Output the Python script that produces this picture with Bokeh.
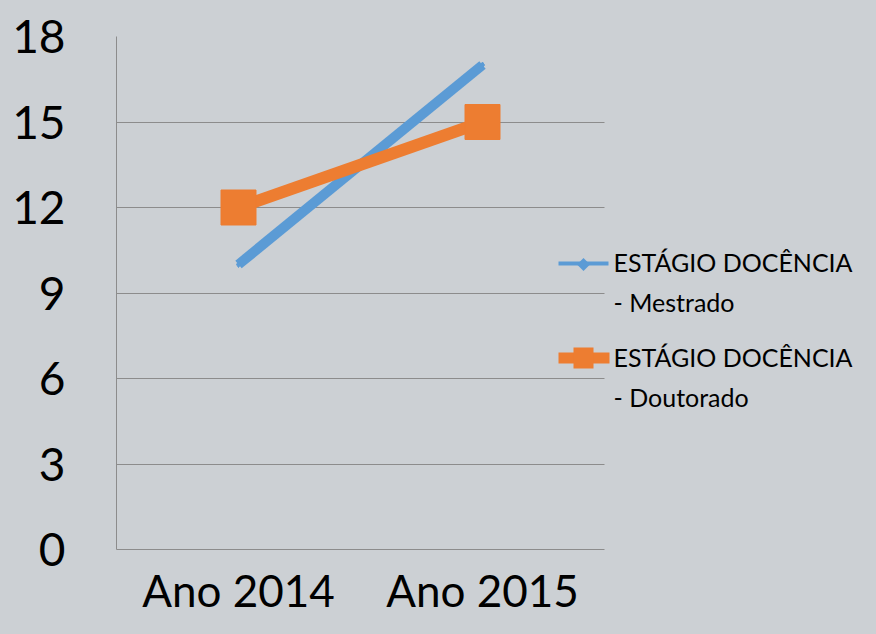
from bokeh.plotting import figure
from bokeh.models import Range1d, FixedTicker, Label, BoxAnnotation, PolyAnnotation
from bokeh.embed import file_html
from bokeh.resources import INLINE

# ---- data ----
years = ["Ano 2014", "Ano 2015"]
mestrado = [10, 17]
doutorado = [12, 15]
y_ticks = [0, 3, 6, 9, 12, 15, 18]
legend_mestrado = ["ESTÁGIO DOCÊNCIA", "- Mestrado"]
legend_doutorado = ["ESTÁGIO DOCÊNCIA", "- Doutorado"]

# category positions on the x scale (one unit per category, centred)
x_pos = [i + 0.5 for i in range(len(years))]
n_cat = len(years)

# ---- style ----
BG = "#ccd0d4"
GRID = "#8c8c8c"
BLUE = "#5b9bd5"
ORANGE = "#ed7d31"
FONT = "Lato"

W, H = 860, 618
LEFT, TOP, BOTTOM = 116, 36, 69
UNIT = 244  # px per category
x_end = (W - LEFT) / UNIT

p = figure(
    x_range=Range1d(0, x_end),
    y_range=Range1d(0, 18),
    width=W, height=H,
    min_border_left=LEFT, min_border_right=0,
    min_border_top=TOP, min_border_bottom=BOTTOM,
    output_backend="svg", toolbar_location=None,
    background_fill_color=BG, border_fill_color=BG,
)
p.outline_line_color = None

# horizontal gridlines limited to the category area
grid = p.ygrid[0]
if "cross_bounds" in grid.properties():
    grid.ticker = FixedTicker(ticks=y_ticks)
    grid.grid_line_color = GRID
    grid.grid_line_width = 1
    grid.cross_bounds = (0, n_cat)
else:
    grid.grid_line_color = None
    p.segment(x0=[0] * len(y_ticks), x1=[n_cat] * len(y_ticks), y0=y_ticks, y1=y_ticks,
              line_color=GRID, line_width=1)
p.xgrid.grid_line_color = None

# series
p.line(x_pos, mestrado, line_width=10, line_color=BLUE, line_cap="butt")
p.scatter(x_pos, mestrado, marker="diamond", size=6, color=BLUE)
p.line(x_pos, doutorado, line_width=12, line_color=ORANGE)
p.scatter(x_pos, doutorado, marker="square", size=35, color=ORANGE)

# axes
for ax in (p.yaxis[0], p.xaxis[0]):
    ax.major_tick_line_color = None
    ax.minor_tick_line_color = None
    ax.major_tick_out = 0
    ax.major_tick_in = 0
    ax.minor_tick_out = 0
    ax.minor_tick_in = 0
    ax.axis_line_color = GRID
    ax.major_label_text_font = FONT
    ax.major_label_text_color = "black"
p.yaxis.ticker = FixedTicker(ticks=y_ticks)
p.yaxis.major_label_standoff = 51
p.yaxis.major_label_text_font_size = "46px"

p.xaxis.ticker = FixedTicker(ticks=x_pos)
p.xaxis.major_label_overrides = {x: lab for x, lab in zip(x_pos, years)}
p.xaxis.major_label_standoff = 14
p.xaxis.major_label_text_font_size = "44px"
p.xaxis.bounds = (0, n_cat)

# ---- legend (screen units relative to frame bottom-left) ----
def sbox(l, r, b, t, color):
    return BoxAnnotation(left=l, right=r, bottom=b, top=t,
                         left_units="screen", right_units="screen",
                         bottom_units="screen", top_units="screen",
                         fill_color=color, fill_alpha=1, line_color=None)

p.add_layout(sbox(442, 492, 284, 288, BLUE))
cx, cy, h = 467, 285, 6.5
p.add_layout(PolyAnnotation(xs=[cx - h, cx, cx + h, cx], ys=[cy, cy + h, cy, cy - h],
                            xs_units="screen", ys_units="screen",
                            fill_color=BLUE, fill_alpha=1, line_color=None))
p.add_layout(sbox(442, 493, 186, 197, ORANGE))
p.add_layout(sbox(457, 477, 181, 202, ORANGE))

for lines, ys in ((legend_mestrado, (288, 248)), (legend_doutorado, (193, 153))):
    for txt, yy in zip(lines, ys):
        p.add_layout(Label(x=497, y=yy, x_units="screen", y_units="screen", text=txt,
                           text_font=FONT, text_font_size="25px", text_color="black",
                           text_baseline="alphabetic", text_align="left"))

html = file_html(p, INLINE)
html = html.replace("</head>", "<style>body{background-color:%s;}</style></head>" % BG, 1)
open("out.html", "w").write(html)
